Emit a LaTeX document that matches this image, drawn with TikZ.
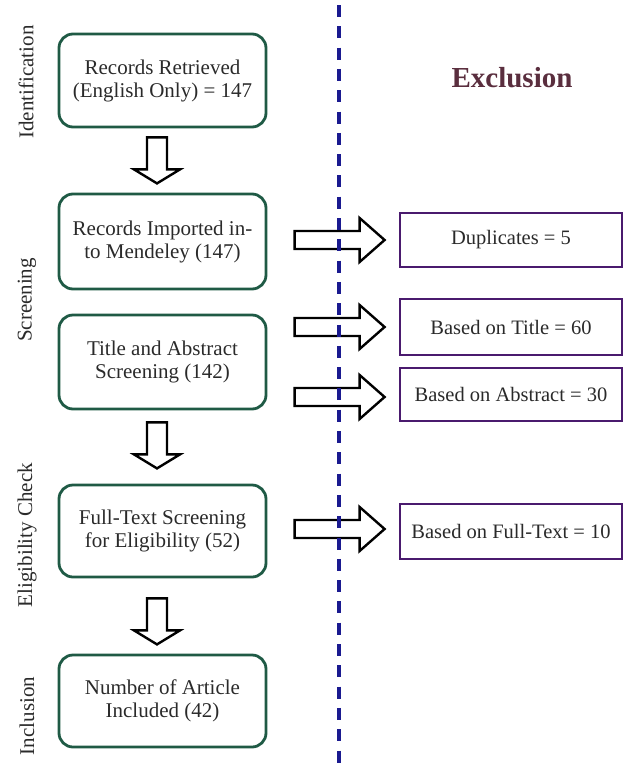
\documentclass[tikz,border=0pt]{standalone}
\usepackage{fontspec}
\setmainfont{Liberation Serif}
\usetikzlibrary{calc}
\definecolor{boxgreen}{HTML}{1F5A45}
\definecolor{exclpurple}{HTML}{4A1A6E}
\definecolor{dashblue}{HTML}{1A1A90}
\definecolor{exclred}{HTML}{5A2E3E}
\definecolor{txt}{HTML}{2A2A2A}
\begin{document}
\begin{tikzpicture}[x=1pt,y=-1pt,
  stagebox/.style={draw=boxgreen,line width=2.8pt,rounded corners=14pt,minimum width=207pt,align=center,
    font=\fontsize{21}{23}\selectfont,text=txt,inner sep=0pt},
  exclbox/.style={draw=exclpurple,line width=2.8pt,minimum width=222pt,align=center,
    font=\fontsize{20.5}{23}\selectfont,text=txt,inner sep=0pt},
  sidelabel/.style={rotate=90,font=\fontsize{21}{24}\selectfont,text=txt,inner sep=0pt},
  blockarrow/.style={draw=black,line width=2.4pt,fill=white,line join=miter},
  pics/downblock/.style={code={\draw[blockarrow] (-10,0) -- (10,0) -- (10,32) -- (23,32) -- (0,46) -- (-23,32) -- (-10,32) -- cycle;}},
  pics/rightblock/.style={code={\draw[blockarrow] (0,-9) -- (65,-9) -- (65,-22) -- (90,0) -- (65,22) -- (65,9) -- (0,9) -- cycle;}}
]
\useasboundingbox (0,0) rectangle (634,764);

% stage boxes
\node[stagebox,minimum height=93pt] (b1) at (162.5,80.5) {Records Retrieved\\(English Only) = 147};
\node[stagebox,minimum height=95pt] (b2) at (162.5,241.5) {Records Imported in-\\to Mendeley (147)};
\node[stagebox,minimum height=94pt] (b3) at (162.5,362) {Title and Abstract\\Screening (142)};
\node[stagebox,minimum height=92pt] (b4) at (162.5,531) {Full-Text Screening\\for Eligibility (52)};
\node[stagebox,minimum height=92pt] (b5) at (162.5,701) {Number of Article\\Included (42)};

% exclusion boxes
\node[exclbox,minimum height=54pt] (e1) at (511,240) {Duplicates = 5};
\node[exclbox,minimum height=56pt] (e2) at (511,327) {Based on Title = 60};
\node[exclbox,minimum height=53pt] (e3) at (511,394.5) {Based on Abstract = 30};
\node[exclbox,minimum height=55pt] (e4) at (511,531.5) {Based on Full-Text = 10};

% side labels
\node[sidelabel] (l1) at (26,82) {Identification};
\node[sidelabel] (l2) at (27,300) {Screening};
\node[sidelabel] (l3) at (27,535) {Eligibility Check};
\node[sidelabel] (l4) at (27,716) {Inclusion};

\node[font=\bfseries\fontsize{29}{32}\selectfont,text=exclred] (excl) at (512,78) {Exclusion};

% down block arrows
\pic at ($(b1.south)+(-5.5,9)$) {downblock};
\pic at ($(b3.south)+(-5.5,12)$) {downblock};
\pic at ($(b4.south)+(-5.5,20)$) {downblock};

% right block arrows
\pic at ($(e1.west)+(-104,0)$) {rightblock};
\pic at ($(e2.west)+(-104,0)$) {rightblock};
\pic at ($(e3.west)+(-104,2.5)$) {rightblock};
\pic at ($(e4.west)+(-104,-2.5)$) {rightblock};

% dashed divider
\coordinate (dtop) at (339,5);
\coordinate (dbot) at (339,764);
\draw[dashblue,line width=3.2pt,dash pattern=on 12pt off 9.3pt] (dtop) -- (dbot);
\end{tikzpicture}
\end{document}
